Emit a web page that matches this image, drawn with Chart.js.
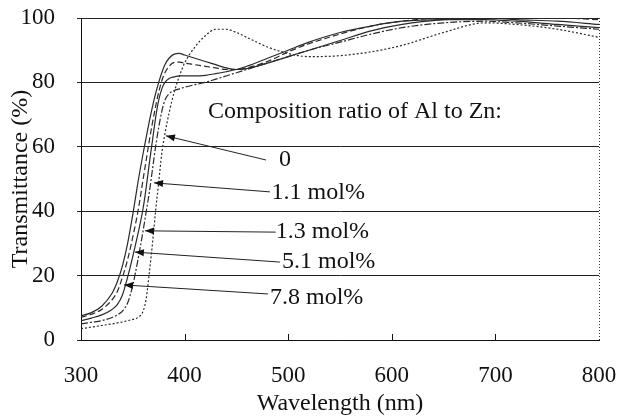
<!DOCTYPE html>
<html><head><meta charset="utf-8">
<script src="https://cdn.jsdelivr.net/npm/chart.js@4/dist/chart.umd.min.js"></script>
<style>html,body{margin:0;padding:0;background:#fff;}canvas{display:block;}</style>
</head><body>
<canvas id="c" width="621" height="416"></canvas>
<script>
// ---- data ----
const wavelengths = [300,310,320,330,335,340,345,350,355,360,363,366,369,372,375,378,381,385,390,395,400,410,420,430,440,450,460,480,500,520,550,580,610,650,690,720,760,800];
const t_0   = [3.5,4,4.5,5,5.3,5.6,6,6.4,7,9,13,21,30,40,49,58,64,70.5,77,82,86,91,94.5,96.5,96.5,95.5,94,91,89,88,88.3,89.5,91.5,95.5,98.5,98,96.5,94];
const t_1_1 = [5,5.5,6,7,7.8,9,11.5,17,25,34,40,46,53,60,66,71,74.5,76.5,77.5,78,78.5,79.3,80,81,82,83,84,86,88,90,92.5,95,97,98.5,99,98.5,97.5,96.5];
const t_1_3 = [6,6.8,7.8,9.5,11,14,19.5,26,33,41,47.5,55,62,69,74.5,78,80,81.2,81.7,82,82,82,82.2,82.7,83.3,84,85,87.5,90,92.5,95.5,97.5,99,99.5,99.5,99,98,97];
const t_5_1 = [7,8,9.5,12.5,15,19.5,25,32,40,50,56,62,67.5,72.5,77,80.5,83,85,86.2,86.3,86,85.5,85,84.5,84,84,84.5,86.5,89.5,92,95,97.5,99,100,100,100,100,99.5];
const t_7_8 = [7.5,8.5,10.5,14.5,18,23,30,39,49,58,63,68,72.5,76.5,80,83,85.5,87.5,88.8,89,88.5,87.5,86.5,85.5,84.5,84,84.3,86,88,90,93,96,98,99.5,100,99.5,99,98];
const seriesLabels = ['0','1.1 mol%','1.3 mol%','5.1 mol%','7.8 mol%'];
const xTicks = [300,400,500,600,700,800];
const yTicks = [0,20,40,60,80,100];
const annoTitle = 'Composition ratio of Al to Zn:';
const annoTitlePos = [422.6,70.8];
const labelPos  = [[491,55.9],[484,45.7],[488,33.5],[494,24.2],[482.4,13.0]];
const arrowFrom = [[478.6,55.9],[482.4,46.0],[488,33.5],[492,24.2],[480.5,14.3]];
const arrowTo   = [[382,63.4],[370.5,48.8],[361.8,33.9],[352,27.3],[341.5,17.1]];

const seriesValues = [t_0,t_1_1,t_1_3,t_5_1,t_7_8];
const dashes = [[2,2],[7,2,2,2],[],[6,3],[]];
const FONT = "'Liberation Serif','Times New Roman',serif";

const datasets = seriesValues.map((vals,i)=>({
  label: seriesLabels[i],
  data: wavelengths.map((w,j)=>({x:w,y:vals[j]})),
  borderColor:'#2a2a2a', borderWidth:1.2, borderDash:dashes[i],
  pointRadius:0, fill:false, cubicInterpolationMode:'monotone'
}));

const annoPlugin = {
  id:'anno',
  afterDatasetsDraw(chart){
    const {ctx, scales:{x,y}, chartArea:a} = chart;
    ctx.save();
    ctx.strokeStyle='#333'; ctx.lineWidth=1; ctx.setLineDash([1,2]);
    ctx.beginPath(); ctx.moveTo(a.right+0.5,a.top); ctx.lineTo(a.right+0.5,a.bottom); ctx.stroke();
    ctx.setLineDash([]);
    ctx.strokeStyle='#111';
    x.ticks.forEach(t=>{
      if(t.value===x.min||t.value===x.max) return;
      const px=Math.round(x.getPixelForValue(t.value))+0.5;
      ctx.beginPath(); ctx.moveTo(px,a.bottom); ctx.lineTo(px,a.bottom-6); ctx.stroke();
    });
    ctx.fillStyle='#111'; ctx.font="24px "+FONT; ctx.textBaseline='middle'; ctx.textAlign='left';
    ctx.fillText(annoTitle, x.getPixelForValue(annoTitlePos[0]), y.getPixelForValue(annoTitlePos[1]));
    seriesLabels.forEach((s,i)=>{
      ctx.fillText(s, x.getPixelForValue(labelPos[i][0]), y.getPixelForValue(labelPos[i][1]));
    });
    ctx.strokeStyle='#222'; ctx.lineWidth=1;
    arrowFrom.forEach((f,i)=>{
      const x0=x.getPixelForValue(f[0]), y0=y.getPixelForValue(f[1]);
      const x1=x.getPixelForValue(arrowTo[i][0]), y1=y.getPixelForValue(arrowTo[i][1]);
      ctx.beginPath(); ctx.moveTo(x0,y0); ctx.lineTo(x1,y1); ctx.stroke();
      const ang=Math.atan2(y1-y0,x1-x0), L=9, W=3.5;
      ctx.beginPath();
      ctx.moveTo(x1,y1);
      ctx.lineTo(x1-L*Math.cos(ang)+W*Math.sin(ang), y1-L*Math.sin(ang)-W*Math.cos(ang));
      ctx.lineTo(x1-L*Math.cos(ang)-W*Math.sin(ang), y1-L*Math.sin(ang)+W*Math.cos(ang));
      ctx.closePath(); ctx.fill();
    });
    ctx.restore();
  }
};

new Chart(document.getElementById('c'),{
  type:'line',
  data:{datasets},
  plugins:[annoPlugin],
  options:{
    responsive:false, animation:false, devicePixelRatio:1,
    layout:{padding:{left:0,right:22,top:18,bottom:0}},
    plugins:{legend:{display:false},tooltip:{enabled:false}},
    scales:{
      x:{type:'linear',min:300,max:800,
        afterBuildTicks:s=>{s.ticks=xTicks.map(v=>({value:v}));},
        afterFit:s=>{s.height=76; s.paddingLeft=0; s.paddingRight=0;},
        grid:{display:false,drawTicks:false},
        border:{display:true,color:'#111',width:1},
        ticks:{padding:22,color:'#111',font:{family:FONT,size:23},maxRotation:0,autoSkip:false},
        title:{display:true,text:'Wavelength (nm)',color:'#111',font:{family:FONT,size:24,lineHeight:1.0},padding:{top:0,bottom:0}}
      },
      y:{type:'linear',min:0,max:100,
        afterBuildTicks:s=>{s.ticks=yTicks.map(v=>({value:v}));},
        afterFit:s=>{s.width=81; s.paddingTop=0; s.paddingBottom=0;},
        grid:{color:'#222',lineWidth:1,drawTicks:true,tickLength:4},
        border:{display:true,color:'#111',width:1},
        ticks:{padding:22,color:'#111',font:{family:FONT,size:23}},
        title:{display:true,text:'Transmittance (%)',color:'#111',font:{family:FONT,size:24},padding:{top:6,bottom:0}}
      }
    }
  }
});
</script>
</body></html>
